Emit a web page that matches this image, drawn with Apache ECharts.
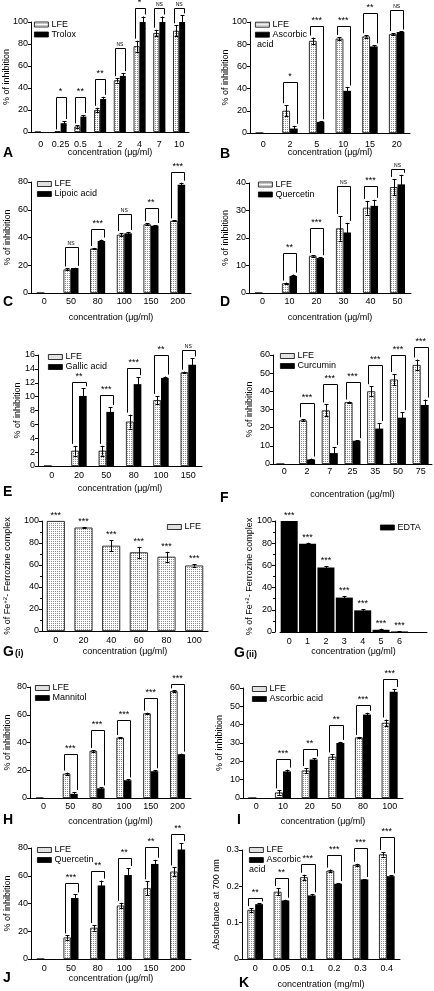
<!DOCTYPE html>
<html><head><meta charset="utf-8">
<script src="https://cdn.jsdelivr.net/npm/echarts@6/dist/echarts.min.js"></script>
<style>html,body{margin:0;padding:0;background:#fff}#c{width:434px;height:991px}</style>
</head><body><div id="c"></div><script>
// ---------- DATA ----------
const catA = ['0','0.25','0.5','1','2','4','7','10'];
const lfeA = [0,0.5,5,20,47,78,90,92];
const lfeErrA = [0,0,1,2,2,5,3,5];
const troloxA = [0,8,14,30,51,100,100,100];
const troloxErrA = [0,2,1.5,2,2.5,5,5,6];
const sigA = ['','*','**','**','NS','*','NS','NS'];
const brkA = [null,32,32,48,76,113,113,113];

const catB = ['0','2','5','10','15','20'];
const lfeB = [0,20,83,85,87,89];
const lfeErrB = [0,5,3,1.5,1,1];
const ascB = [0,4,10,38,78,91];
const ascErrB = [0,2.5,0.5,3,1,0.5];
const sigB = ['','*','***','***','**','NS'];
const brkB = [null,46,96,96,108,111];

const catC = ['0','50','80','100','150','200'];
const lfeC = [0,17,32,42,49.5,52];
const lfeErrC = [0,0.7,0.5,1.2,0.8,0.3];
const lipC = [0,18,37.5,43,48.5,78];
const lipErrC = [0,0.2,1,1,0.5,1.5];
const sigC = ['','NS','***','NS','**','***'];
const brkC = [null,33,46,57,61,87];

const catD = ['0','10','20','30','40','50'];
const lfeD = [0,3.5,13.5,23.5,31,38.5];
const lfeErrD = [0,0.3,0.3,4.5,2.5,3];
const queD = [0,6.2,12.7,22,31.7,39.5];
const queErrD = [0,0.5,0.3,3.5,2.2,3.5];
const sigD = ['','**','***','NS','***','NS'];
const brkD = [null,14.5,23.5,38.8,38.8,45];

const catE = ['0','20','50','80','100','150'];
const lfeE = [0,2.2,2.2,6.4,9.5,13.5];
const lfeErrE = [0,0.7,0.7,1,0.6,0.1];
const galE = [0,10.1,7.8,11.8,12.7,14.6];
const galErrE = [0,1.1,0.7,1,0.2,0.9];
const sigE = ['','**','***','***','**','NS'];
const brkE = [null,12.1,10.2,14.1,16,16.7];

const catF = ['0','2','7','25','35','50','75'];
const lfeF = [0,24,29.5,34,40,46.5,54.5];
const lfeErrF = [0,0.6,3.3,0.4,2.8,3,3];
const curF = [0,2.5,6,12.8,19.5,25.5,32.5];
const curErrF = [0,0.5,3.3,0.3,3,3,3];
const sigF = ['','***','***','***','***','***','***'];
const brkF = [null,33.8,43.9,45.3,54.5,60,64.6];

const catG1 = ['0','20','40','60','80','100'];
const lfeG1 = [100,94,77.5,71.5,67.5,59.5];
const lfeErrG1 = [0,0.5,5,5,4.5,1];
const sigG1 = ['***','***','***','***','***','***'];

const catG2 = ['0','1','2','3','4','5','6'];
const edtaG2 = [100,79.5,58,31,19.5,2,0.5];
const edtaErrG2 = [0,1,1.5,1.5,1,1,0.3];
const sigG2 = ['***','***','***','***','***','***','***'];

const catH = ['0','50','80','100','150','200'];
const lfeH = [0,17.5,34,43.5,61,77];
const lfeErrH = [0,0.8,0.6,0.5,0.5,0.6];
const manH = [0,3,7,12.8,19.3,31.5];
const manErrH = [0,1.3,0.7,0.6,0.7,0.5];
const sigH = ['','***','***','***','***','***'];
const brkH = [null,31.5,48.7,55.9,72,82];

const catI = ['0','10','20','50','80','100'];
const lfeI = [0,3,15,22.5,33,41];
const lfeErrI = [0,1.2,1.3,1.3,0.3,1.8];
const ascI = [0,14.5,21,30,45.5,58];
const ascErrI = [0,1,0.6,0.6,1,1.5];
const sigI = ['','***','**','**','***','***'];
const brkI = [null,21.5,27,39.6,51,65];

const catJ = ['0','50','80','100','150','200'];
const lfeJ = [0,15.5,22.5,38.5,51,63];
const lfeErrJ = [0,1.5,2,2,5,3];
const queJ = [0,44,53,60.5,68.5,79];
const queErrJ = [0,2.5,3.5,5,3,4.5];
const sigJ = ['','***','**','**','**','**'];
const brkJ = [null,54.7,63.6,72.8,80.7,90];

const catK = ['0','0.05','0.1','0.2','0.3','0.4'];
const lfeK = [0.135,0.185,0.225,0.243,0.259,0.288];
const lfeErrK = [0.005,0.01,0.007,0.003,0.003,0.006];
const ascK = [0.151,0.161,0.175,0.207,0.219,0.228];
const ascErrK = [0.002,0.002,0.003,0.002,0.001,0.002];
const sigK = ['**','**','***','***','***','***'];
const brkK = [0.167,0.222,0.261,0.286,0.306,0.337];

// ---------- STYLE / LAYOUT ----------
const FONT = '"Liberation Sans", Arial, Helvetica, sans-serif';
const UG = 'concentration (\u03bcg/ml)';
const INH = '% of inhibition';
const FE = '{a|% of Fe}{s|+2}{a|- Ferrozine complex}';

const pc = document.createElement('canvas'); pc.width = 2; pc.height = 2;
const pg = pc.getContext('2d'); pg.fillStyle = '#fff'; pg.fillRect(0,0,2,2);
pg.fillStyle = '#8c8c8c'; pg.fillRect(1,1,1,1);
const LFE_STYLE = {color:{image:pc, repeat:'repeat'}, borderColor:'#000', borderWidth:0.8};
const REF_STYLE = {color:'#000'};

const panels = [
 {cats:catA, ser:[['LFE',lfeA,lfeErrA],['Trolox',troloxA,troloxErrA]], sig:sigA, brk:brkA, ymax:100, yint:20, yname:INH, xname:UG,
  grid:{left:31,top:22,width:158,height:110}, bw:6, lm:8, xg:16, yg:20, lg:{left:34,top:19.5}, letter:['A',3,153]},
 {cats:catB, ser:[['LFE',lfeB,lfeErrB],['Ascorbic acid',ascB,ascErrB]], sig:sigB, brk:brkB, ymax:100, yint:20, yname:INH, xname:UG,
  grid:{left:250,top:22,width:160,height:111}, bw:7.7, lm:7, xg:15, yg:20, lg:{left:255,top:19.7}, split:true, acid:[257,45], letter:['B',220,154]},
 {cats:catC, ser:[['LFE',lfeC,lfeErrC],['Lipoic acid',lipC,lipErrC]], sig:sigC, brk:brkC, ymax:80, yint:20, yname:INH, xname:UG,
  grid:{left:31,top:182,width:160,height:111}, bw:7.5, lm:4, xg:20, yg:19, lg:{left:37,top:179}, letter:['C',3,302]},
 {cats:catD, ser:[['LFE',lfeD,lfeErrD],['Quercetin',queD,queErrD]], sig:sigD, brk:brkD, ymax:40, yint:10, yname:INH, xname:UG,
  grid:{left:249,top:183,width:162,height:110}, bw:7.5, lm:4, xg:20, yg:19, lg:{left:258,top:179.5}, letter:['D',220,302]},
 {cats:catE, ser:[['LFE',lfeE,lfeErrE],['Gallic acid',galE,galErrE]], sig:sigE, brk:brkE, ymax:16, yint:2, yname:INH, xname:UG,
  grid:{left:38,top:355,width:164,height:111}, bw:7.7, lm:5, xg:18, yg:16, lg:{left:48,top:352}, letter:['E',3,492]},
 {cats:catF, ser:[['LFE',lfeF,lfeErrF],['Curcumin',curF,curErrF]], sig:sigF, brk:brkF, ymax:60, yint:10, yname:INH, xname:UG,
  grid:{left:273,top:355,width:159,height:109}, bw:8, lm:3, xg:26, yg:19, lg:{left:280,top:351}, letter:['F',220,498]},
 {cats:catG1, ser:[['LFE',lfeG1,lfeErrG1]], sig:sigG1, top:true, ymax:100, yint:20, yname:FE, xname:UG,
  grid:{left:42,top:521,width:166,height:110}, bw:18, lm:5, xg:16, yg:29, lg:{left:167,top:522}, minor:true, letterRich:['{g|G}{s|(i)}',3,652]},
 {cats:catG2, ser:[['EDTA',edtaG2,edtaErrG2]], sig:sigG2, top:true, pad:1, yoff:5, ymax:100, yint:20, yname:FE, xname:UG,
  grid:{left:280,top:521,width:147,height:111}, bw:17, lm:5, xg:15, yg:20, lg:{left:380,top:522.5}, minor:true, letterRich:['{g|G}{s|(ii)}',234,653]},
 {cats:catH, ser:[['LFE',lfeH,lfeErrH],['Mannitol',manH,manErrH]], sig:sigH, brk:brkH, ymax:80, yint:20, yname:INH, xname:UG,
  grid:{left:30,top:687,width:161,height:111}, bw:7.5, lm:4, xg:19, yg:18, lg:{left:35,top:683}, letter:['H',3,820]},
 {cats:catI, ser:[['LFE',lfeI,lfeErrI],['Ascorbic acid',ascI,ascErrI]], sig:sigI, brk:brkI, ymax:60, yint:10, yname:INH, xname:UG,
  grid:{left:243,top:688,width:160,height:110}, bw:8, lm:4, xg:19, yg:19, lg:{left:252,top:684}, letter:['I',237,820]},
 {cats:catJ, ser:[['LFE',lfeJ,lfeErrJ],['Quercetin',queJ,queErrJ]], sig:sigJ, brk:brkJ, ymax:80, yint:20, yname:INH, xname:UG,
  grid:{left:31,top:848,width:160,height:111}, bw:7.5, lm:5, xg:15, yg:19, lg:{left:37,top:845}, letter:['J',3,978]},
 {cats:catK, ser:[['LFE',lfeK,lfeErrK],['Ascorbic acid',ascK,ascErrK]], sig:sigK, brk:brkK, ymax:0.3, yint:0.1, yname:'Absorbance at 700 nm', xname:'concentration (mg/ml)',
  grid:{left:242,top:850,width:158,height:109}, bw:7.8, lm:5, xg:21, yg:21, lg:{left:249,top:845}, split:true, acid:[249,870], letter:['K',239,983]}
];

function px(v){ return Math.round(v) + 0.5; }
function errRender(shift){
  return function(params, api){
    const k = api.value(0), v = api.value(1), e = api.value(2);
    if (!(e > 0)) return {type:'group', children:[]};
    const x = px(api.coord([k, v])[0] + shift);
    const t = api.coord([k, v + e])[1], b = api.coord([k, v - e])[1];
    const mk = (x1,y1,x2,y2) => ({type:'line', shape:{x1,y1,x2,y2}, style:{stroke:'#000', lineWidth:1}});
    return {type:'group', children:[mk(x,t,x,b), mk(x-2,px(t),x+2,px(t)), mk(x-2,px(b),x+2,px(b))]};
  };
}
function brkRender(bw, sig){
  return function(params, api){
    const k = api.value(0);
    const cx = api.coord([k, 0])[0];
    const yl = api.coord([k, api.value(1)])[1] - 2;
    const yr = api.coord([k, api.value(2)])[1] - 2;
    const y = px(api.coord([k, api.value(3)])[1]);
    const xl = px(cx - bw + 1), xr = px(cx + bw - 1);
    const s = sig[k];
    return {type:'group', children:[
      {type:'polyline', shape:{points:[[xl,yl],[xl,y],[xr,y],[xr,yr]]}, style:{stroke:'#000', lineWidth:1, fill:null}},
      {type:'text', x:cx, y:y - 1, style:{text:s, fill:'#000', font:(s === 'NS' ? '5px ' : '9px ') + FONT, textAlign:'center', textVerticalAlign:'bottom'}}
    ]};
  };
}
function topRender(sig){
  return function(params, api){
    const k = api.value(0);
    const c = api.coord([k, api.value(1)]);
    return {type:'text', x:c[0], y:c[1] - 1, style:{text:sig[k], fill:'#000', font:'9px ' + FONT, textAlign:'center', textVerticalAlign:'bottom'}};
  };
}

const option = {animation:false, textStyle:{fontFamily:FONT}, grid:[], xAxis:[], yAxis:[], series:[], legend:[], graphic:[]};
const txt = {fontSize:9, color:'#000', fontFamily:FONT};
panels.forEach((p, i) => {
  const pad = p.pad || 0;
  const cats = p.cats.concat(new Array(pad).fill(''));
  option.grid.push(Object.assign({}, p.grid));
  option.xAxis.push({type:'category', gridIndex:i, data:cats, name:p.xname, nameLocation:'middle', nameGap:p.xg, nameMoveOverlap:false,
    nameTextStyle:txt, axisLine:{lineStyle:{color:'#000', width:1}}, axisTick:{show:false},
    axisLabel:Object.assign({interval:0, margin:p.lm}, txt), splitLine:{show:false}});
  const ya = {type:'value', gridIndex:i, min:0, max:p.ymax, interval:p.yint, name:p.yname, nameLocation:'middle', nameGap:p.yg, nameMoveOverlap:false,
    nameTextStyle:Object.assign({}, txt), offset:p.yoff || 0,
    axisLine:{show:true, lineStyle:{color:'#000', width:1}}, axisTick:{show:true, length:3, lineStyle:{color:'#000'}},
    axisLabel:Object.assign({margin:3}, txt), splitLine:{show:false}};
  if (p.yname === FE) {
    ya.nameTextStyle.rich = {a:{fontSize:9, color:'#000', fontFamily:FONT, lineHeight:11}, s:{fontSize:6, color:'#000', fontFamily:FONT, verticalAlign:'top', lineHeight:6}};
  }
  if (p.minor) ya.minorTick = {show:true, splitNumber:2, length:2, lineStyle:{color:'#000'}};
  option.yAxis.push(ya);
  const two = p.ser.length === 2;
  p.ser.forEach((s, j) => {
    const isLfe = s[0] === 'LFE';
    const vals = s[1].concat(new Array(pad).fill(null));
    option.series.push({type:'bar', name:s[0], xAxisIndex:i, yAxisIndex:i, data:vals, barWidth:p.bw, barGap:'0%',
      itemStyle:isLfe ? LFE_STYLE : REF_STYLE, silent:true});
    const shift = two ? (j === 0 ? -p.bw/2 : p.bw/2) : 0;
    option.series.push({type:'custom', xAxisIndex:i, yAxisIndex:i, clip:false, silent:true, z:5,
      data:s[1].map((v, k) => [k, v, s[2][k]]), renderItem:errRender(shift)});
  });
  if (p.top) {
    const s = p.ser[0];
    option.series.push({type:'custom', xAxisIndex:i, yAxisIndex:i, clip:false, silent:true, z:6,
      data:s[1].map((v, k) => [k, v + s[2][k]]), renderItem:topRender(p.sig)});
  } else {
    const a = p.ser[0], b = p.ser[1];
    const d = [];
    p.brk.forEach((lv, k) => { if (lv != null) d.push([k, a[1][k] + a[2][k], b[1][k] + b[2][k], lv]); });
    option.series.push({type:'custom', xAxisIndex:i, yAxisIndex:i, clip:false, silent:true, z:6,
      data:d, renderItem:brkRender(p.bw, p.sig)});
  }
  option.legend.push({orient:'vertical', left:p.lg.left, top:p.lg.top, itemWidth:14, itemHeight:5, itemGap:0, icon:'rect',
    padding:0, selectedMode:false, data:p.ser.map(s => s[0]),
    itemStyle:{borderColor:'#000', borderWidth:0.8},
    formatter:p.split ? (n => n === 'Ascorbic acid' ? 'Ascorbic' : n) : (n => n),
    textStyle:Object.assign({lineHeight:10, padding:[0,0,0,-2]}, txt)});
  if (p.acid) option.graphic.push({type:'text', x:p.acid[0], y:p.acid[1], style:{text:'acid', fill:'#000', font:'9px ' + FONT, textVerticalAlign:'middle'}});
  if (p.letter) option.graphic.push({type:'text', x:p.letter[1], y:p.letter[2], style:{text:p.letter[0], fill:'#000', font:'bold 14px ' + FONT, textVerticalAlign:'middle'}});
  if (p.letterRich) option.graphic.push({type:'text', x:p.letterRich[1], y:p.letterRich[2], style:{text:p.letterRich[0], textVerticalAlign:'middle',
    rich:{g:{fontSize:14, fontWeight:'bold', fontFamily:FONT, fill:'#000', color:'#000'}, s:{fontSize:9, fontWeight:'bold', fontFamily:FONT, color:'#000', fill:'#000', padding:[3,0,0,1]}}}});
});

const chart = echarts.init(document.getElementById('c'), null, {renderer:'canvas', width:434, height:991});
chart.setOption(option);
</script></body></html>
